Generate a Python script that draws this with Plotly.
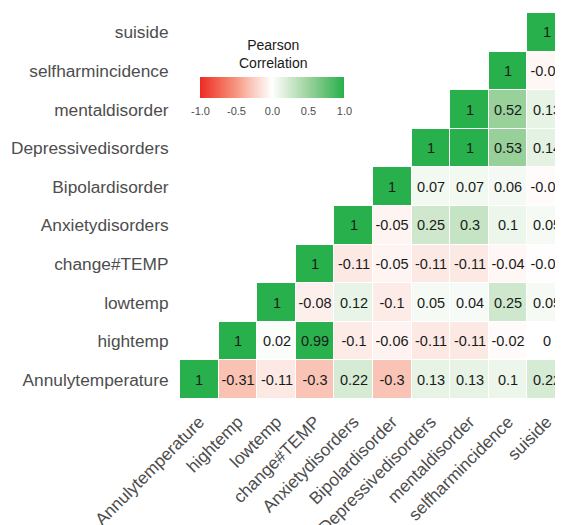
import plotly.graph_objects as go

variables = ["Annulytemperature", "hightemp", "lowtemp", "change#TEMP", "Anxietydisorders",
             "Bipolardisorder", "Depressivedisorders", "mentaldisorder", "selfharmincidence", "suiside"]

# correlation values from the diagonal rightwards, one list per row variable
row_annulytemperature = [1, -0.31, -0.11, -0.3, 0.22, -0.3, 0.13, 0.13, 0.1, 0.22]
row_hightemp = [1, 0.02, 0.99, -0.1, -0.06, -0.11, -0.11, -0.02, 0]
row_lowtemp = [1, -0.08, 0.12, -0.1, 0.05, 0.04, 0.25, 0.05]
row_changetemp = [1, -0.11, -0.05, -0.11, -0.11, -0.04, -0.01]
row_anxiety = [1, -0.05, 0.25, 0.3, 0.1, 0.05]
row_bipolar = [1, 0.07, 0.07, 0.06, -0.02]
row_depressive = [1, 1, 0.53, 0.14]
row_mental = [1, 0.52, 0.13]
row_selfharm = [1, -0.04]
row_suiside = [1]

rows = [row_annulytemperature, row_hightemp, row_lowtemp, row_changetemp, row_anxiety,
        row_bipolar, row_depressive, row_mental, row_selfharm, row_suiside]

colorbar_ticks = [-1.0, -0.5, 0.0, 0.5, 1.0]
colorbar_ticktext = ["-1.0", "-0.5", "0.0", "0.5", "1.0"]

n = len(variables)
z = []
txt = []
for i, r in enumerate(rows):
    zr = [None] * i + list(r)
    z.append(zr)
    txt.append(["" if v is None else f"{v:g}" for v in zr])

colorscale = [
    [0.0, "#ee2b24"],
    [0.25, "#f6967f"],
    [0.35, "#f9c4b6"],
    [0.5, "#ffffff"],
    [0.61, "#d5ebd3"],
    [0.76, "#99d19b"],
    [1.0, "#27b04c"],
]

W, H = 563, 525
OFF = 8  # page body margin offset
ml, mr, mt, mb = 179.5 - OFF, 5, 12.7 - OFF, H - (399.3 - OFF)
plot_w = W - mr - ml

fig = go.Figure(go.Heatmap(
    x=variables, y=variables, z=z, text=txt, texttemplate="%{text}",
    textfont=dict(size=14.5, color="#1a1a1a", family="Arial, Liberation Sans"),
    zmin=-1, zmax=1, colorscale=colorscale, xgap=1, ygap=1,
    hoverongaps=False,
    colorbar=dict(
        orientation="h", xref="container", yref="container",
        x=(200.7 - OFF) / plot_w, xanchor="left", y=(H - (77 - OFF)) / H, yanchor="top",
        lenmode="pixels", len=144, thickness=21, xpad=0, ypad=0,
        outlinewidth=0,
        tickvals=colorbar_ticks, ticktext=colorbar_ticktext,
        ticks="outside", ticklen=4, tickcolor="rgba(255,255,255,0)",
        tickfont=dict(size=11, color="#4d4d4d", family="Arial, Liberation Sans"),
    ),
))

fig.add_annotation(
    text="Pearson<br>Correlation", xref="paper", yref="paper",
    x=(273 - 179.5) / plot_w, y=1 + (12.7 - 53.5) / (399.3 - 12.7),
    xanchor="center", yanchor="middle", showarrow=False, align="center",
    font=dict(size=14, color="#1a1a1a", family="Arial, Liberation Sans"),
)

fig.update_layout(
    width=W, height=H,
    margin=dict(l=ml, r=mr, t=mt, b=mb, pad=0, autoexpand=False),
    plot_bgcolor="white", paper_bgcolor="white",
    font=dict(family="Arial, Liberation Sans", color="#4d4d4d"),
)
fig.update_xaxes(range=[-0.5, 9.5], tickangle=-45, showgrid=False, zeroline=False, automargin=False,
                 tickfont=dict(size=17.3, color="#4d4d4d"), ticks="outside", ticklen=5,
                 tickcolor="rgba(0,0,0,0)", showline=False)
fig.update_yaxes(range=[-0.5, 9.5], showgrid=False, zeroline=False, automargin=False,
                 tickfont=dict(size=17.3, color="#4d4d4d"), ticks="outside", ticklen=7,
                 tickcolor="rgba(0,0,0,0)", showline=False)

fig.write_html("out.html")
